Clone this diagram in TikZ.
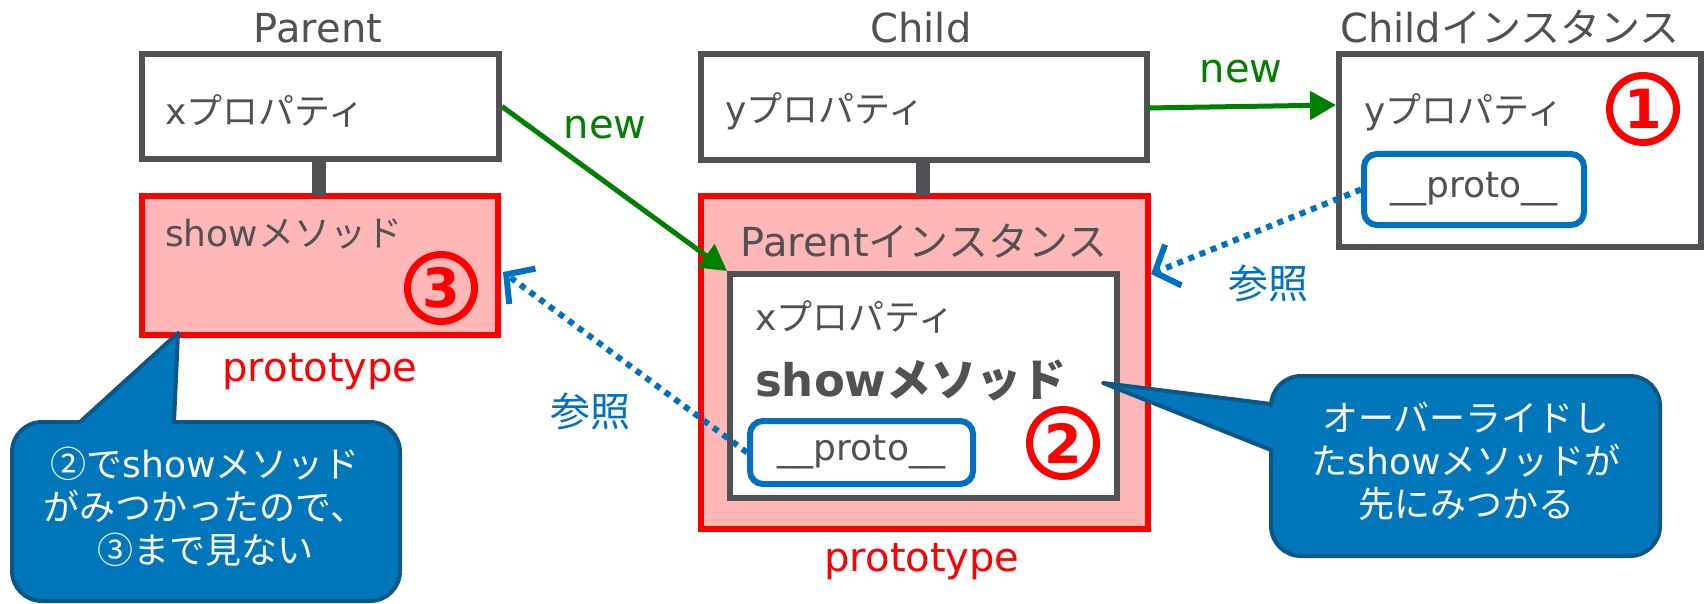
\documentclass[tikz,border=0pt]{standalone}
\usepackage{fontspec}
\setmainfont{Noto Sans CJK JP}
\newfontfamily\lat{DejaVu Sans}
\usetikzlibrary{arrows.meta,calc}

\definecolor{ink}{RGB}{80,80,85}
\definecolor{protored}{RGB}{255,0,0}
\definecolor{protofill}{RGB}{255,182,182}
\definecolor{newgreen}{RGB}{0,128,0}
\definecolor{refblue}{RGB}{0,112,192}
\definecolor{callfill}{RGB}{0,119,187}
\definecolor{callline}{RGB}{12,86,136}

\tikzset{
  objbox/.style={draw=ink, line width=6pt, fill=white, inner sep=0pt},
  protobox/.style={draw=protored, line width=6pt, fill=protofill, inner sep=0pt},
  linkbox/.style={draw=refblue, line width=6pt, fill=white, rounded corners=13pt, inner sep=0pt},
  chain/.style={draw=ink, line width=14pt},
  title/.style={text=ink, font=\fontsize{40}{48}\selectfont, inner sep=0pt},
  body/.style={text=ink, font=\fontsize{36}{43}\selectfont, inner sep=0pt, anchor=west},
  redlabel/.style={text=protored, font=\lat\fontsize{40}{48}\selectfont, inner sep=0pt},
  newlabel/.style={text=newgreen, font=\lat\fontsize{40}{48}\selectfont, inner sep=0pt},
  reflabel/.style={text=refblue, font=\fontsize{40}{48}\selectfont, inner sep=0pt},
  newarrow/.style={draw=newgreen, line width=5pt, -{Triangle[length=26pt,width=28pt]}},
  refarrow/.style={draw=refblue, line width=6pt, dash pattern=on 6pt off 6pt,
    -{Straight Barb[length=20pt,width=44pt,line width=6pt]}},
  numcirc/.style={circle, draw=protored, line width=7pt, minimum size=67pt, inner sep=0pt,
    text=protored, font=\lat\bfseries\fontsize{54}{54}\selectfont},
  callout/.style={fill=callfill, draw=callline, line width=4pt, line join=round},
  calltext/.style={text=white, font=\fontsize{36}{43}\selectfont, align=center, inner sep=0pt},
}

\begin{document}
\begin{tikzpicture}[x=1pt,y=-1pt]
\useasboundingbox (0,0) rectangle (1704,604);

% ---------- Parent ----------
\node[title] (ptitle) at (318,28) {\lat Parent};
\node[objbox, minimum width=357pt, minimum height=105pt] (pbox) at (320.5,106.5) {};
\node[protobox, minimum width=356pt, minimum height=139pt] (pproto) at (320,265.5) {};
\draw[chain] (318.5,159) -- (318.5,196);
\node[body] (px) at (165,111) {{\lat x}プロパティ};
\node[body] (pshow) at (165,234) {{\lat show}メソッド};
\node[numcirc] (n3) at (441,288) {3};
\node[redlabel] (plab) at (320,372) {prototype};

% ---------- Child ----------
\node[title] (ctitle) at (921,28) {\lat Child};
\node[objbox, minimum width=446pt, minimum height=106pt] (cbox) at (924,107) {};
\node[protobox, minimum width=447pt, minimum height=333pt] (cproto) at (924.5,362.5) {};
\draw[chain] (923,160) -- (923,196);
\node[body] (cy) at (725,111) {{\lat y}プロパティ};
\node[title] (pinst) at (924,241) {{\lat Parent}インスタンス};
\node[objbox, minimum width=387pt, minimum height=224pt] (inner) at (923.5,386) {};
\node[body] (ix) at (755,317) {{\lat x}プロパティ};
\node[body, font=\bfseries\fontsize{45}{54}\selectfont] (ishow) at (755,380) {{\lat\bfseries show}メソッド};
\node[linkbox, minimum width=223pt, minimum height=63pt] (iproto) at (861.5,452.5) {};
\node[text=ink, font=\lat\fontsize{36}{43}\selectfont, inner sep=0pt] at (iproto) {\_\_proto\_\_};
\node[numcirc] (n2) at (1063,443) {2};
\node[redlabel] (clab) at (922,562) {prototype};

% ---------- Child instance ----------
\node[title] (cititle) at (1510,27) {{\lat Child}インスタンス};
\node[objbox, minimum width=362pt, minimum height=193pt] (cibox) at (1520,150.5) {};
\node[body] (ciy) at (1364,112) {{\lat y}プロパティ};
\node[numcirc] (n1) at (1643,109) {1};
\node[linkbox, minimum width=220pt, minimum height=71pt] (ciproto) at (1474,189.5) {};
\node[text=ink, font=\lat\fontsize{36}{43}\selectfont, inner sep=0pt] at (ciproto) {\_\_proto\_\_};

% ---------- new arrows ----------
\node[newlabel] (new1) at (605,128) {new};
\draw[newarrow] (pbox.east) -- (inner.north west);
\node[newlabel] (new2) at (1241,72) {new};
\coordinate (cientry) at (1336,105);
\draw[newarrow] (1147,108) -- (cientry);

% ---------- reference arrows ----------
\coordinate (ref1) at (503,272);
\draw[refarrow] (iproto.west) -- (ref1);
\node[reflabel] (ref1lab) at (590,411) {参照};
\coordinate (ref2) at (1151,274);
\draw[refarrow] (ciproto.west) -- (ref2);
\node[reflabel] (ref2lab) at (1268,283) {参照};

% ---------- callouts ----------
\draw[callout] (80,422) -- (178,333) -- (174,422)
  [rounded corners=30pt] -- (400,422) -- (400,601) -- (12,601) -- (12,422) [sharp corners] -- cycle;
\node[calltext] (note1) at (205,507) {②で{\lat show}メソッド\\がみつかったので、\\③まで見ない};

\draw[callout] (1271,404) -- (1103,383) -- (1271,450)
  [rounded corners=30pt] -- (1271,556) -- (1660,556) -- (1660,376) -- (1271,376) [sharp corners] -- cycle;
\node[calltext] (note2) at (1466,461) {オーバーライドし\\た{\lat show}メソッドが\\先にみつかる};
\end{tikzpicture}
\end{document}
